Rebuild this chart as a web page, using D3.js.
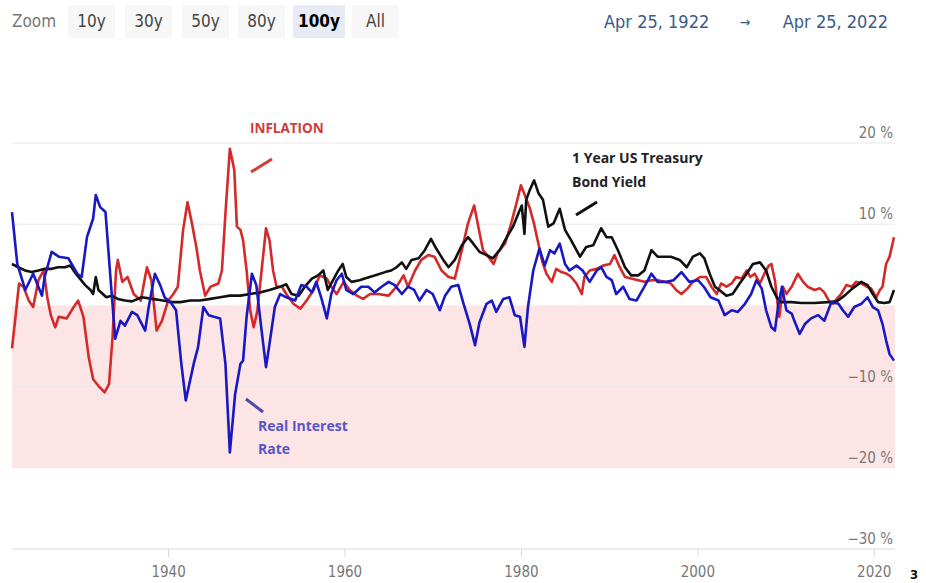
<!DOCTYPE html>
<html>
<head>
<meta charset="utf-8">
<script src="https://cdn.jsdelivr.net/npm/d3@7"></script>
<style>
  body { margin: 0; background: #fff; }
  svg { display: block; }
</style>
</head>
<body>
<div id="main-vis"></div>
<script>
// zoom bar
var zoomButtons = ["10y", "30y", "50y", "80y", "100y", "All"];
var selectedButton = "100y";
var rangeFrom = "Apr 25, 1922";
var rangeTo = "Apr 25, 2022";

// axis ticks
var xTicks = [1940, 1960, 1980, 2000, 2020];
var yTicks = [20, 10, -10, -20, -30];

// inflation (red)
var inflationYears = [1922.3, 1922.7, 1923.1, 1923.6, 1924.2, 1924.7, 1925.3, 1925.9, 1926.3, 1926.7, 1927.2, 1927.6, 1928.5, 1929.3, 1929.8, 1930.4, 1931.0, 1931.5, 1932.1, 1932.8, 1933.3, 1933.7, 1934.1, 1934.3, 1934.8, 1935.4, 1936.1, 1936.9, 1937.6, 1938.1, 1938.7, 1939.3, 1940.0, 1940.6, 1941.1, 1941.7, 1942.2, 1942.7, 1943.2, 1943.6, 1944.2, 1944.8, 1945.7, 1946.1, 1946.5, 1947.0, 1947.5, 1947.8, 1948.2, 1948.5, 1948.9, 1949.3, 1949.7, 1950.1, 1950.6, 1951.1, 1951.5, 1951.9, 1952.3, 1952.9, 1953.4, 1954.2, 1955.0, 1955.7, 1956.5, 1957.2, 1958.0, 1958.5, 1959.1, 1959.9, 1960.6, 1961.4, 1962.1, 1962.9, 1963.8, 1965.0, 1965.9, 1966.7, 1967.2, 1968.0, 1968.7, 1969.5, 1970.2, 1971.0, 1971.8, 1972.5, 1973.3, 1974.0, 1974.7, 1975.1, 1975.7, 1976.3, 1976.9, 1977.4, 1978.2, 1978.9, 1979.5, 1980.0, 1980.5, 1981.0, 1981.5, 1982.0, 1982.4, 1982.9, 1983.5, 1984.0, 1984.6, 1985.2, 1985.7, 1986.3, 1986.9, 1987.2, 1987.8, 1988.6, 1989.3, 1990.1, 1990.6, 1991.2, 1991.8, 1992.5, 1993.3, 1994.0, 1994.8, 1995.5, 1996.3, 1997.0, 1997.6, 1998.2, 1998.9, 1999.5, 2000.3, 2001.0, 2001.6, 2002.2, 2002.7, 2003.3, 2003.9, 2004.4, 2005.0, 2005.6, 2006.0, 2006.5, 2007.1, 2007.6, 2008.1, 2008.4, 2008.8, 2009.1, 2009.3, 2009.7, 2010.1, 2010.7, 2011.4, 2012.0, 2012.5, 2013.3, 2013.9, 2014.4, 2015.0, 2015.4, 2015.8, 2016.3, 2016.9, 2017.5, 2018.0, 2018.6, 2019.2, 2019.7, 2020.3, 2020.7, 2021.0, 2021.4, 2021.8, 2022.3];
var inflationValues = [-5.3, -1.4, 2.7, 2.3, 0.6, -0.2, 3.1, 4.3, 1.0, -1.2, -2.7, -1.4, -1.6, -0.2, 0.6, -1.4, -6.4, -9.1, -9.9, -10.7, -9.7, -3.9, 4.3, 5.6, 2.9, 3.5, 1.4, 0.6, 4.7, 3.1, -3.1, -1.9, 0.6, 1.4, 2.3, 9.3, 12.7, 10.1, 7.2, 4.3, 1.2, 2.3, 2.7, 4.3, 11.3, 19.3, 16.7, 9.7, 9.3, 8.0, 4.3, -0.6, -2.7, -0.8, 4.3, 9.5, 8.0, 4.3, 2.3, 2.3, 1.4, 0.2, -0.4, 0.6, 1.9, 3.7, 3.3, 2.3, 1.4, 2.9, 1.9, 1.2, 0.8, 1.4, 1.4, 1.2, 2.3, 3.7, 2.3, 4.3, 5.6, 6.2, 6.0, 4.3, 3.5, 3.3, 6.8, 10.1, 12.3, 10.1, 6.8, 6.0, 5.1, 6.6, 7.6, 10.1, 12.6, 14.8, 13.4, 12.0, 10.0, 7.5, 5.5, 3.9, 2.9, 4.5, 4.1, 3.9, 3.5, 2.7, 1.4, 3.5, 4.3, 4.5, 4.9, 5.1, 6.2, 4.7, 3.5, 3.3, 3.1, 2.9, 3.1, 3.1, 2.9, 2.7, 1.9, 1.4, 2.1, 2.9, 3.5, 3.5, 2.3, 1.4, 2.7, 2.3, 2.7, 3.5, 3.3, 4.3, 3.5, 3.9, 2.7, 3.9, 4.9, 5.1, 3.1, 0.2, -1.4, 2.3, 1.4, 2.3, 3.9, 2.9, 2.3, 1.9, 2.1, 1.6, 0.4, 0.2, 0.8, 1.4, 2.5, 2.3, 2.9, 2.7, 2.3, 2.1, 1.0, 1.9, 2.3, 5.1, 6.0, 8.4];

// real interest rate (blue)
var realYears = [1922.3, 1922.9, 1923.8, 1924.7, 1925.7, 1926.0, 1926.8, 1927.6, 1928.7, 1929.7, 1930.2, 1930.8, 1931.5, 1931.8, 1932.3, 1932.9, 1933.4, 1934.0, 1934.6, 1935.1, 1935.9, 1936.5, 1937.4, 1937.8, 1938.5, 1939.1, 1939.6, 1940.4, 1940.9, 1941.5, 1942.0, 1942.9, 1943.4, 1944.0, 1944.6, 1945.2, 1945.9, 1946.5, 1947.0, 1947.6, 1948.2, 1948.5, 1948.9, 1949.5, 1950.0, 1950.6, 1951.1, 1951.5, 1952.1, 1952.7, 1953.4, 1954.4, 1955.1, 1955.7, 1956.3, 1956.8, 1957.4, 1958.0, 1958.5, 1959.1, 1959.7, 1960.2, 1961.0, 1961.9, 1962.7, 1963.4, 1964.2, 1965.0, 1965.7, 1966.5, 1967.2, 1967.9, 1968.5, 1969.3, 1970.0, 1970.8, 1971.4, 1972.1, 1972.9, 1973.5, 1974.2, 1974.8, 1975.3, 1976.1, 1976.7, 1977.2, 1978.0, 1978.7, 1979.3, 1979.9, 1980.4, 1980.8, 1981.4, 1982.1, 1982.7, 1983.3, 1983.8, 1984.4, 1985.0, 1985.5, 1986.3, 1987.0, 1987.8, 1988.6, 1989.1, 1989.7, 1990.3, 1990.8, 1991.6, 1992.3, 1993.1, 1994.0, 1994.8, 1995.5, 1996.5, 1997.3, 1998.2, 1999.1, 2000.1, 2000.8, 2001.5, 2002.4, 2003.1, 2003.9, 2004.6, 2005.4, 2006.1, 2006.7, 2007.3, 2007.8, 2008.4, 2008.8, 2009.2, 2009.6, 2010.1, 2010.7, 2011.0, 2011.6, 2012.2, 2012.9, 2013.7, 2014.4, 2015.2, 2016.0, 2016.5, 2017.1, 2017.8, 2018.6, 2019.3, 2019.9, 2020.5, 2021.0, 2021.4, 2021.8, 2022.3];
var realValues = [11.5, 5.1, 1.9, 3.9, 1.2, 3.5, 6.6, 6.0, 5.8, 3.9, 3.5, 8.4, 10.7, 13.6, 12.1, 11.5, 4.3, -4.1, -1.9, -2.5, -0.8, -1.2, -3.1, -0.2, 3.9, 2.5, 1.0, 0.2, -0.6, -7.2, -11.7, -7.2, -5.1, -0.2, -1.2, -1.4, -1.6, -7.2, -18.1, -10.9, -7.2, -6.8, -1.4, 3.9, 2.5, -3.1, -7.6, -4.7, -0.2, 1.4, 1.0, 0.6, 2.5, 2.3, 1.6, 2.9, 0.8, -1.6, 1.4, 3.1, 3.9, 1.9, 1.4, 2.3, 2.3, 1.6, 2.3, 2.9, 2.5, 1.4, 2.3, 1.9, 0.6, 1.9, 1.4, -0.6, 1.2, 2.3, 2.5, 0.2, -2.3, -4.9, -2.1, 0.2, 0.6, -0.8, 0.8, 1.0, -1.2, -1.4, -5.1, -0.2, 4.3, 7.0, 4.9, 6.8, 6.4, 7.6, 5.1, 4.3, 4.9, 4.3, 2.9, 4.3, 4.7, 3.5, 3.1, 1.4, 2.3, 0.8, 0.6, 2.3, 3.9, 2.9, 2.9, 3.1, 4.1, 2.9, 3.1, 2.2, 1.0, 0.6, -1.2, -0.6, -0.8, 0.2, 1.4, 3.1, 2.1, -0.6, -2.7, -3.1, 0.2, 2.3, -0.6, -1.0, -1.9, -3.5, -2.3, -1.6, -1.2, -1.9, 0.4, 0.2, -0.6, -1.4, -0.2, 0.2, 1.0, -0.2, -0.6, -2.3, -4.3, -6.0, -6.8];

// 1 year treasury yield (black)
var treasuryYears = [1922.3, 1923.0, 1923.8, 1924.5, 1925.3, 1926.0, 1926.8, 1927.5, 1928.3, 1928.9, 1929.4, 1930.0, 1930.6, 1931.2, 1931.5, 1931.8, 1932.1, 1932.6, 1933.0, 1933.6, 1934.3, 1935.1, 1935.9, 1937.0, 1938.2, 1939.4, 1940.5, 1941.4, 1942.5, 1943.6, 1944.8, 1945.9, 1947.0, 1948.2, 1949.3, 1950.4, 1951.5, 1952.7, 1953.4, 1954.0, 1954.8, 1955.5, 1956.3, 1957.0, 1957.6, 1958.1, 1958.7, 1959.3, 1959.8, 1960.2, 1960.8, 1961.7, 1962.3, 1963.5, 1964.6, 1965.3, 1965.9, 1966.5, 1967.0, 1967.6, 1968.4, 1969.1, 1969.8, 1970.4, 1971.2, 1971.8, 1972.5, 1973.3, 1974.0, 1974.6, 1975.3, 1976.1, 1976.8, 1977.6, 1978.4, 1979.1, 1979.7, 1980.1, 1980.4, 1980.6, 1981.0, 1981.5, 1982.0, 1982.5, 1983.1, 1983.7, 1984.4, 1985.0, 1985.7, 1986.7, 1987.4, 1988.2, 1989.1, 1989.7, 1990.3, 1991.0, 1991.8, 1992.5, 1993.3, 1994.0, 1994.8, 1995.5, 1996.3, 1997.0, 1998.0, 1998.8, 1999.5, 2000.3, 2000.8, 2001.4, 2002.0, 2002.5, 2003.3, 2004.0, 2004.8, 2005.6, 2006.3, 2007.1, 2007.8, 2008.4, 2009.0, 2009.5, 2010.7, 2011.8, 2013.3, 2014.8, 2015.8, 2016.7, 2017.6, 2018.6, 2019.3, 2019.9, 2020.5, 2021.2, 2021.8, 2022.3];
var treasuryValues = [5.1, 4.7, 4.3, 4.1, 4.3, 4.5, 4.5, 4.7, 4.7, 4.9, 4.1, 3.3, 2.5, 1.9, 1.4, 3.5, 1.9, 1.4, 1.0, 1.2, 0.8, 0.6, 0.5, 1.0, 0.8, 0.6, 0.4, 0.4, 0.6, 0.6, 0.8, 1.0, 1.2, 1.2, 1.4, 1.6, 1.9, 2.3, 2.6, 1.4, 1.2, 2.3, 3.3, 3.7, 4.3, 1.9, 3.1, 4.3, 5.1, 3.5, 2.9, 3.1, 3.3, 3.7, 4.1, 4.3, 4.7, 5.3, 4.5, 5.6, 5.8, 6.8, 8.2, 7.0, 5.6, 4.7, 5.6, 7.4, 8.4, 7.6, 6.6, 6.2, 5.8, 6.8, 8.4, 9.7, 11.3, 12.3, 8.8, 13.0, 14.2, 15.4, 13.8, 13.0, 9.7, 10.1, 11.9, 9.3, 8.0, 6.0, 7.2, 7.4, 9.5, 8.4, 8.4, 6.8, 4.7, 3.7, 3.7, 4.3, 6.8, 6.0, 6.0, 6.0, 5.6, 4.7, 6.0, 6.4, 5.8, 3.9, 2.3, 1.9, 1.2, 1.4, 2.7, 3.9, 5.1, 5.3, 4.3, 2.3, 1.0, 0.4, 0.4, 0.3, 0.3, 0.4, 0.5, 1.2, 2.1, 2.9, 2.5, 1.4, 0.4, 0.3, 0.4, 1.9];

var W = 926, H = 583;
var plotLeft = 12, plotRight = 895;

var svg = d3.select("#main-vis").append("svg")
  .attr("width", W)
  .attr("height", H)
  .style("font-family", "'Liberation Sans Narrow', 'DejaVu Sans Condensed', 'Open Sans', sans-serif");

var x = d3.scaleLinear().domain([1922.3, 2022.3]).range([12, 894]);
var y = d3.scaleLinear().domain([-30, 20]).range([549, 143]);

// negative band
svg.append("rect")
  .attr("x", plotLeft)
  .attr("y", y(0))
  .attr("width", plotRight - plotLeft)
  .attr("height", y(-20) - y(0))
  .attr("fill", "#fde5e5");

// grid lines
svg.selectAll(".grid")
  .data(yTicks.filter(function (d) { return d !== -30; }))
  .enter().append("line")
  .attr("x1", plotLeft)
  .attr("x2", plotRight)
  .attr("y1", function (d) { return y(d); })
  .attr("y2", function (d) { return y(d); })
  .attr("stroke", "#e8e8e8")
  .attr("stroke-width", 1);

// y labels on the right
svg.selectAll(".ylab")
  .data(yTicks)
  .enter().append("text")
  .attr("x", 893)
  .attr("y", function (d) { return y(d) - 5; })
  .attr("text-anchor", "end")
  .attr("fill", "#777")
  .style("font-size", "15px")
  .text(function (d) { return (d < 0 ? "\u2212" + Math.abs(d) : d) + " %"; });

// x axis
var xAxis = svg.append("g")
  .attr("transform", "translate(0," + y(-30) + ")")
  .call(d3.axisBottom(x).tickValues(xTicks).tickFormat(d3.format("d")).tickSize(8).tickSizeOuter(0));
xAxis.select(".domain").remove();
xAxis.selectAll(".tick line").attr("stroke", "#d8d8d8");
xAxis.selectAll(".tick text")
  .attr("fill", "#777")
  .attr("dy", "1.15em")
  .style("font-size", "15px")
  .style("font-family", "'Liberation Sans Narrow', 'DejaVu Sans Condensed', sans-serif");
svg.append("line")
  .attr("x1", plotLeft).attr("x2", plotRight)
  .attr("y1", y(-30)).attr("y2", y(-30))
  .attr("stroke", "#d8d8d8");

// series
var line = d3.line()
  .x(function (d) { return x(d[0]); })
  .y(function (d) { return y(d[1]); });

function drawSeries(years, values, color) {
  svg.append("path")
    .datum(d3.zip(years, values))
    .attr("fill", "none")
    .attr("stroke", color)
    .attr("stroke-width", 2.6)
    .attr("stroke-linejoin", "round")
    .attr("d", line);
}
drawSeries(inflationYears, inflationValues, "#d42a2a");
drawSeries(treasuryYears, treasuryValues, "#111111");
drawSeries(realYears, realValues, "#1818c4");

// annotations
var ann = svg.append("g").style("font-family", "'Open Sans', 'Liberation Sans', sans-serif").style("font-weight", "bold");
ann.append("text").attr("x", 250).attr("y", 133).attr("fill", "#d33a3a").style("font-size", "13.5px").text("INFLATION");
ann.append("line").attr("x1", 251).attr("y1", 172).attr("x2", 272).attr("y2", 159).attr("stroke", "#d33a3a").attr("stroke-width", 3);

ann.append("text").attr("x", 572).attr("y", 163).attr("fill", "#222").style("font-size", "14px").text("1 Year US Treasury");
ann.append("text").attr("x", 572).attr("y", 187).attr("fill", "#222").style("font-size", "14px").text("Bond Yield");
ann.append("line").attr("x1", 576).attr("y1", 215).attr("x2", 597).attr("y2", 202).attr("stroke", "#111").attr("stroke-width", 3);

ann.append("text").attr("x", 258).attr("y", 431).attr("fill", "#5555c8").style("font-size", "14px").text("Real Interest");
ann.append("text").attr("x", 258).attr("y", 454).attr("fill", "#5555c8").style("font-size", "14px").text("Rate");
ann.append("line").attr("x1", 246).attr("y1", 399).attr("x2", 263).attr("y2", 412).attr("stroke", "#4a4aa8").attr("stroke-width", 3);

// zoom bar
svg.append("text").attr("x", 12).attr("y", 27).attr("fill", "#777").style("font-size", "17px").text("Zoom");
var btnX = [68, 125, 182, 238, 293, 352];
var btnW = [47, 47, 47, 47, 52, 47];
var btns = svg.selectAll(".btn")
  .data(zoomButtons)
  .enter().append("g")
  .attr("transform", function (d, i) { return "translate(" + btnX[i] + ",5)"; });
btns.append("rect")
  .attr("width", function (d, i) { return btnW[i]; })
  .attr("height", 33)
  .attr("fill", function (d) { return d === selectedButton ? "#e6ebf5" : "#f7f7f7"; });
btns.append("text")
  .attr("x", function (d, i) { return btnW[i] / 2; })
  .attr("y", 22)
  .attr("text-anchor", "middle")
  .attr("fill", function (d) { return d === selectedButton ? "#000" : "#444"; })
  .style("font-weight", function (d) { return d === selectedButton ? "bold" : "normal"; })
  .style("font-size", "17px")
  .text(function (d) { return d; });

// date range
var range = svg.append("g").attr("fill", "#3b5b88").style("font-size", "18px");
range.append("text").attr("x", 604).attr("y", 28).text(rangeFrom);
range.append("text").attr("x", 745).attr("y", 27).attr("text-anchor", "middle").style("font-size", "14px").text("\u2192");
range.append("text").attr("x", 888).attr("y", 28).attr("text-anchor", "end").text(rangeTo);

// page number
svg.append("text").attr("x", 910).attr("y", 579).attr("fill", "#111")
  .style("font-weight", "bold").style("font-size", "13px").text("3");
</script>
</body>
</html>
